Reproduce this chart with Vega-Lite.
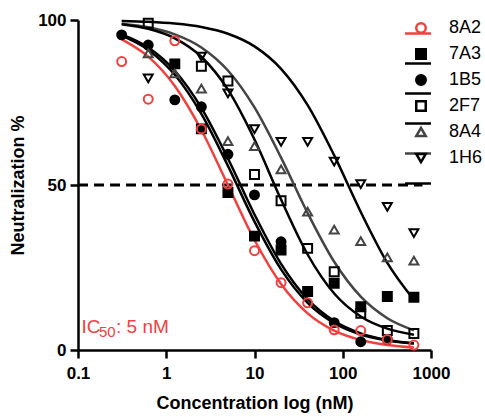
{
  "$schema": "https://vega.github.io/schema/vega-lite/v6.json",
  "width": 353,
  "height": 330,
  "autosize": {"type": "none"},
  "padding": {"left": 78, "top": 20, "right": 54, "bottom": 67},
  "background": "white",
  "config": {
    "view": {"stroke": null},
    "font": "Liberation Sans",
    "axis": {
      "domainColor": "black", "domainWidth": 2.5, "tickColor": "black", "tickWidth": 2.5, "tickSize": 8,
      "labelFont": "Liberation Sans", "labelFontSize": 17, "labelFontWeight": "bold", "labelColor": "black",
      "titleFont": "Liberation Sans", "titleFontSize": 18, "titleFontWeight": "bold", "titleColor": "black",
      "grid": false, "labelPadding": 4, "labelFlush": false, "labelOverlap": false
    }
  },
  "datasets": {
    "points": [
      {"series": "7A3", "conc": 1.25, "value": 86.7},
      {"series": "7A3", "conc": 2.5, "value": 67},
      {"series": "7A3", "conc": 5, "value": 47.7},
      {"series": "7A3", "conc": 10, "value": 34.5},
      {"series": "7A3", "conc": 20, "value": 30.3},
      {"series": "7A3", "conc": 40, "value": 17.7},
      {"series": "7A3", "conc": 80, "value": 20.2},
      {"series": "7A3", "conc": 160, "value": 13.1},
      {"series": "7A3", "conc": 320, "value": 16.2},
      {"series": "7A3", "conc": 640, "value": 16},
      {"series": "1B5", "conc": 0.3125, "value": 95.5},
      {"series": "1B5", "conc": 0.625, "value": 92.4},
      {"series": "1B5", "conc": 1.25, "value": 75.8},
      {"series": "1B5", "conc": 2.5, "value": 73.7},
      {"series": "1B5", "conc": 5, "value": 59.3},
      {"series": "1B5", "conc": 10, "value": 47},
      {"series": "1B5", "conc": 20, "value": 32.8},
      {"series": "1B5", "conc": 80, "value": 8.3},
      {"series": "1B5", "conc": 160, "value": 2.5},
      {"series": "1B5", "conc": 320, "value": 3.2},
      {"series": "2F7", "conc": 0.625, "value": 99},
      {"series": "2F7", "conc": 2.5, "value": 86},
      {"series": "2F7", "conc": 5, "value": 81.5},
      {"series": "2F7", "conc": 10, "value": 53.2},
      {"series": "2F7", "conc": 20, "value": 45.2},
      {"series": "2F7", "conc": 40, "value": 30.8},
      {"series": "2F7", "conc": 80, "value": 23.7},
      {"series": "2F7", "conc": 160, "value": 11.1},
      {"series": "2F7", "conc": 320, "value": 5.9},
      {"series": "2F7", "conc": 640, "value": 5},
      {"series": "8A4", "conc": 0.625, "value": 89.9},
      {"series": "8A4", "conc": 1.25, "value": 83.8},
      {"series": "8A4", "conc": 2.5, "value": 79.2},
      {"series": "8A4", "conc": 5, "value": 63.3},
      {"series": "8A4", "conc": 10, "value": 61.8},
      {"series": "8A4", "conc": 20, "value": 54.7},
      {"series": "8A4", "conc": 40, "value": 41.9},
      {"series": "8A4", "conc": 80, "value": 36.5},
      {"series": "8A4", "conc": 160, "value": 33},
      {"series": "8A4", "conc": 320, "value": 28.1},
      {"series": "8A4", "conc": 640, "value": 27.1},
      {"series": "1H6", "conc": 0.625, "value": 82.3},
      {"series": "1H6", "conc": 2.5, "value": 88.9},
      {"series": "1H6", "conc": 5, "value": 77.8},
      {"series": "1H6", "conc": 10, "value": 66.9},
      {"series": "1H6", "conc": 20, "value": 63.1},
      {"series": "1H6", "conc": 40, "value": 63.1},
      {"series": "1H6", "conc": 80, "value": 57.1},
      {"series": "1H6", "conc": 160, "value": 50.3},
      {"series": "1H6", "conc": 320, "value": 43.4},
      {"series": "1H6", "conc": 640, "value": 35.4},
      {"series": "8A2", "conc": 0.3125, "value": 87.4},
      {"series": "8A2", "conc": 0.625, "value": 76},
      {"series": "8A2", "conc": 1.25, "value": 93.7},
      {"series": "8A2", "conc": 2.5, "value": 67},
      {"series": "8A2", "conc": 5, "value": 50.3},
      {"series": "8A2", "conc": 10, "value": 30.1},
      {"series": "8A2", "conc": 20, "value": 20.4},
      {"series": "8A2", "conc": 40, "value": 14.3},
      {"series": "8A2", "conc": 80, "value": 6.1},
      {"series": "8A2", "conc": 160, "value": 5.9},
      {"series": "8A2", "conc": 320, "value": 3.2},
      {"series": "8A2", "conc": 640, "value": 1.5}
    ],
    "curves": [
      {"series": "1H6", "conc": 0.3125, "value": 99.73},
      {"series": "1H6", "conc": 0.625, "value": 99.46},
      {"series": "1H6", "conc": 1.25, "value": 98.92},
      {"series": "1H6", "conc": 2.5, "value": 97.87},
      {"series": "1H6", "conc": 5, "value": 95.83},
      {"series": "1H6", "conc": 10, "value": 92.0},
      {"series": "1H6", "conc": 20, "value": 85.19},
      {"series": "1H6", "conc": 40, "value": 74.19},
      {"series": "1H6", "conc": 80, "value": 58.97},
      {"series": "1H6", "conc": 160, "value": 41.82},
      {"series": "1H6", "conc": 320, "value": 26.43},
      {"series": "1H6", "conc": 640, "value": 15.23},
      {"series": "8A4", "conc": 0.3125, "value": 98.88},
      {"series": "8A4", "conc": 0.625, "value": 97.78},
      {"series": "8A4", "conc": 1.25, "value": 95.66},
      {"series": "8A4", "conc": 2.5, "value": 91.69},
      {"series": "8A4", "conc": 5, "value": 84.69},
      {"series": "8A4", "conc": 10, "value": 73.51},
      {"series": "8A4", "conc": 20, "value": 58.3},
      {"series": "8A4", "conc": 40, "value": 41.5},
      {"series": "8A4", "conc": 80, "value": 26.73},
      {"series": "8A4", "conc": 160, "value": 16.15},
      {"series": "8A4", "conc": 320, "value": 9.63},
      {"series": "8A4", "conc": 640, "value": 5.97},
      {"series": "2F7", "conc": 0.3125, "value": 98.74},
      {"series": "2F7", "conc": 0.625, "value": 97.34},
      {"series": "2F7", "conc": 1.25, "value": 94.46},
      {"series": "2F7", "conc": 2.5, "value": 88.86},
      {"series": "2F7", "conc": 5, "value": 78.88},
      {"series": "2F7", "conc": 10, "value": 63.77},
      {"series": "2F7", "conc": 20, "value": 45.58},
      {"series": "2F7", "conc": 40, "value": 28.94},
      {"series": "2F7", "conc": 80, "value": 17.12},
      {"series": "2F7", "conc": 160, "value": 10.14},
      {"series": "2F7", "conc": 320, "value": 6.46},
      {"series": "2F7", "conc": 640, "value": 4.65},
      {"series": "7A3", "conc": 0.3125, "value": 95.65},
      {"series": "7A3", "conc": 0.625, "value": 91.67},
      {"series": "7A3", "conc": 1.25, "value": 84.63},
      {"series": "7A3", "conc": 2.5, "value": 73.39},
      {"series": "7A3", "conc": 5, "value": 58.05},
      {"series": "7A3", "conc": 10, "value": 41.07},
      {"series": "7A3", "conc": 20, "value": 26.12},
      {"series": "7A3", "conc": 40, "value": 15.39},
      {"series": "7A3", "conc": 80, "value": 8.76},
      {"series": "7A3", "conc": 160, "value": 5.04},
      {"series": "7A3", "conc": 320, "value": 3.06},
      {"series": "7A3", "conc": 640, "value": 2.04},
      {"series": "1B5", "conc": 0.3125, "value": 95.25},
      {"series": "1B5", "conc": 0.625, "value": 90.94},
      {"series": "1B5", "conc": 1.25, "value": 83.39},
      {"series": "1B5", "conc": 2.5, "value": 71.55},
      {"series": "1B5", "conc": 5, "value": 55.8},
      {"series": "1B5", "conc": 10, "value": 38.89},
      {"series": "1B5", "conc": 20, "value": 24.43},
      {"series": "1B5", "conc": 40, "value": 14.28},
      {"series": "1B5", "conc": 80, "value": 8.12},
      {"series": "1B5", "conc": 160, "value": 4.69},
      {"series": "1B5", "conc": 320, "value": 2.88},
      {"series": "1B5", "conc": 640, "value": 1.95},
      {"series": "8A2", "conc": 0.3125, "value": 94.12},
      {"series": "8A2", "conc": 0.625, "value": 88.89},
      {"series": "8A2", "conc": 1.25, "value": 80.0},
      {"series": "8A2", "conc": 2.5, "value": 66.67},
      {"series": "8A2", "conc": 5, "value": 50.0},
      {"series": "8A2", "conc": 10, "value": 33.33},
      {"series": "8A2", "conc": 20, "value": 20.0},
      {"series": "8A2", "conc": 40, "value": 11.11},
      {"series": "8A2", "conc": 80, "value": 5.88},
      {"series": "8A2", "conc": 160, "value": 3.03},
      {"series": "8A2", "conc": 320, "value": 1.54},
      {"series": "8A2", "conc": 640, "value": 0.78}
    ]
  },
  "layer": [
    {
      "data": {"values": [{}]},
      "mark": {"type": "rule", "strokeDash": [10, 6], "strokeWidth": 3, "color": "black"},
      "encoding": {
        "x": {"datum": 0.1, "type": "quantitative", "scale": {"type": "log", "domain": [0.1, 1000], "nice": false},
          "axis": {"values": [0.1, 1, 10, 100, 1000], "format": "~g", "title": "Concentration log (nM)", "labelPadding": 7, "titlePadding": 13}},
        "x2": {"datum": 800},
        "y": {"datum": 50, "type": "quantitative", "scale": {"domain": [0, 100], "nice": false},
          "axis": {"values": [0, 50, 100], "title": "Neutralization %", "titlePadding": 10}}
      }
    },
    {
      "data": {"name": "curves"},
      "mark": {"type": "line", "strokeWidth": 2.5, "interpolate": "monotone"},
      "encoding": {
        "x": {"field": "conc", "type": "quantitative"},
        "y": {"field": "value", "type": "quantitative"},
        "color": {"field": "series", "type": "nominal",
          "sort": ["8A2", "7A3", "1B5", "2F7", "8A4", "1H6"],
          "scale": {"range": ["#f0413f", "#000000", "#000000", "#000000", "#444444", "#000000"]},
          "legend": {
            "orient": "none", "legendX": 325.5, "legendY": -1, "title": null, "padding": 0,
            "symbolType": "stroke", "symbolSize": 676, "symbolStrokeWidth": 2.5, "rowPadding": 6,
            "labelExpr": "' '", "labelFontSize": 18, "labelFont": "Liberation Sans", "labelOffset": 0
          }
        }
      }
    },
    {
      "data": {"name": "points"},
      "mark": {"type": "point", "strokeWidth": 2, "size": 80, "opacity": 1},
      "encoding": {
        "x": {"field": "conc", "type": "quantitative"},
        "y": {"field": "value", "type": "quantitative"},
        "stroke": {"field": "series", "type": "nominal",
          "scale": {"domain": ["8A2", "7A3", "1B5", "2F7", "8A4", "1H6"], "range": ["#f0413f", "#000000", "#000000", "#000000", "#444444", "#000000"]}},
        "fill": {"field": "series", "type": "nominal",
          "scale": {"domain": ["8A2", "7A3", "1B5", "2F7", "8A4", "1H6"], "range": ["transparent", "#000000", "#000000", "transparent", "transparent", "transparent"]}},
        "shape": {"field": "series", "type": "nominal",
          "scale": {"domain": ["8A2", "7A3", "1B5", "2F7", "8A4", "1H6"], "range": ["circle", "square", "circle", "square", "triangle-up", "triangle-down"]},
          "legend": {
            "orient": "none", "legendX": 334, "legendY": -1, "title": null, "padding": 0,
            "symbolSize": 90, "symbolStrokeWidth": 2.5, "symbolOpacity": 1, "rowPadding": 6,
            "labelFont": "Liberation Sans", "labelFontSize": 18, "labelColor": "black", "labelOffset": 19
          }
        }
      }
    },
    {
      "data": {"values": [{}]},
      "mark": {"type": "text", "text": "IC", "align": "left", "baseline": "alphabetic", "fontSize": 19, "color": "#f0413f", "font": "Liberation Sans"},
      "encoding": {"x": {"datum": 0.1096, "type": "quantitative"}, "y": {"datum": 5.06, "type": "quantitative"}}
    },
    {
      "data": {"values": [{}]},
      "mark": {"type": "text", "text": "50", "align": "left", "baseline": "alphabetic", "fontSize": 15, "color": "#f0413f", "font": "Liberation Sans"},
      "encoding": {"x": {"datum": 0.173, "type": "quantitative"}, "y": {"datum": 3.85, "type": "quantitative"}}
    },
    {
      "data": {"values": [{}]},
      "mark": {"type": "text", "text": ": 5 nM", "align": "left", "baseline": "alphabetic", "fontSize": 19, "color": "#f0413f", "font": "Liberation Sans"},
      "encoding": {"x": {"datum": 0.2697, "type": "quantitative"}, "y": {"datum": 5.06, "type": "quantitative"}}
    }
  ]
}
